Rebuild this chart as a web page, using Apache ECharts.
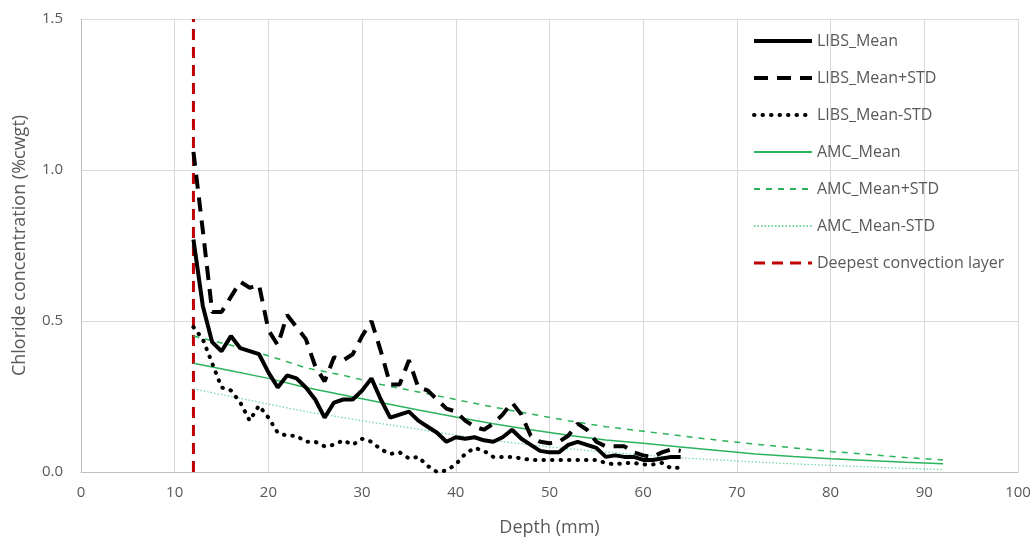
<!DOCTYPE html>
<html lang="en">
<head>
    <meta charset="UTF-8">
    <title>index</title>
    <script src="https://cdn.jsdelivr.net/npm/echarts@6/dist/echarts.min.js"></script>
    <style>
        html, body { margin: 0; padding: 0; background: #fff; }
        #chart { width: 1035px; height: 542px; }
    </style>
</head>
<body>
<div id="chart"></div>
<script>
    // LIBS profile, one reading per mm from 12 to 64
    var libsStart = 12;
    var libsMean = [0.77, 0.55, 0.43, 0.40, 0.45, 0.41, 0.40, 0.39, 0.33, 0.28,
        0.32, 0.31, 0.28, 0.24, 0.18, 0.23, 0.24, 0.24, 0.27, 0.31,
        0.24, 0.18, 0.19, 0.20, 0.17, 0.15, 0.13, 0.10, 0.115, 0.11,
        0.115, 0.105, 0.10, 0.115, 0.14, 0.11, 0.09, 0.07, 0.065, 0.065,
        0.09, 0.10, 0.09, 0.08, 0.05, 0.055, 0.05, 0.05, 0.04, 0.04,
        0.045, 0.05, 0.05];
    var libsPlus = [1.06, 0.80, 0.53, 0.53, 0.58, 0.63, 0.61, 0.62, 0.47, 0.42,
        0.52, 0.48, 0.44, 0.35, 0.30, 0.38, 0.37, 0.39, 0.45, 0.50,
        0.40, 0.29, 0.29, 0.37, 0.28, 0.27, 0.24, 0.21, 0.20, 0.17,
        0.15, 0.14, 0.16, 0.19, 0.23, 0.19, 0.12, 0.10, 0.095, 0.10,
        0.12, 0.16, 0.14, 0.10, 0.085, 0.085, 0.085, 0.065, 0.055, 0.05,
        0.065, 0.075, 0.07];
    var libsMinus = [0.48, 0.44, 0.36, 0.28, 0.27, 0.23, 0.17, 0.22, 0.18, 0.13,
        0.12, 0.12, 0.10, 0.10, 0.085, 0.09, 0.105, 0.09, 0.11, 0.10,
        0.075, 0.06, 0.065, 0.045, 0.05, 0.02, 0.0, 0.005, 0.025, 0.06,
        0.08, 0.07, 0.05, 0.05, 0.05, 0.045, 0.04, 0.04, 0.04, 0.04,
        0.04, 0.04, 0.04, 0.04, 0.03, 0.025, 0.03, 0.03, 0.025, 0.025,
        0.03, 0.012, 0.015];

    // AMC profile
    var amcDepth = [12, 16, 20, 24, 28, 32, 36, 40, 44, 48, 52, 56, 60, 64, 68, 72, 76, 80, 84, 88, 92];
    var amcMean = [0.36, 0.335, 0.31, 0.28, 0.255, 0.23, 0.205, 0.182, 0.16, 0.14, 0.122, 0.106, 0.095, 0.083, 0.071, 0.06, 0.051, 0.044, 0.038, 0.032, 0.027];
    var amcPlus = [0.45, 0.42, 0.385, 0.345, 0.32, 0.29, 0.265, 0.24, 0.215, 0.192, 0.17, 0.15, 0.135, 0.12, 0.105, 0.092, 0.08, 0.068, 0.058, 0.048, 0.04];
    var amcMinus = [0.275, 0.25, 0.225, 0.20, 0.18, 0.16, 0.142, 0.122, 0.104, 0.09, 0.077, 0.066, 0.056, 0.047, 0.04, 0.033, 0.027, 0.022, 0.017, 0.012, 0.008];

    // deepest convection layer
    var convDepth = 12;
    var convRange = [0, 1.5];

    function libsPairs(arr) {
        return arr.map(function (v, i) { return [libsStart + i, v]; });
    }
    function amcPairs(arr) {
        return arr.map(function (v, i) { return [amcDepth[i], v]; });
    }

    var grey = '#595959';
    var chart = echarts.init(document.getElementById('chart'));
    chart.setOption({
        animation: false,
        textStyle: { fontFamily: 'Open Sans' },
        grid: { left: 81, right: 17, top: 19, bottom: 70 },
        legend: {
            orient: 'vertical',
            left: 752,
            top: 33,
            padding: 0,
            itemWidth: 58,
            itemHeight: 14,
            itemGap: 21,
            itemStyle: { opacity: 0 },
            textStyle: { color: grey, fontSize: 16 },
            data: [
                { name: 'LIBS_Mean', lineStyle: { width: 4 } },
                { name: 'LIBS_Mean+STD', lineStyle: { width: 4 } },
                { name: 'LIBS_Mean-STD', lineStyle: { width: 4 } },
                { name: 'AMC_Mean' },
                { name: 'AMC_Mean+STD' },
                { name: 'AMC_Mean-STD' },
                { name: 'Deepest convection layer', lineStyle: { width: 3 } }
            ]
        },
        xAxis: {
            type: 'value', min: 0, max: 100, interval: 10,
            name: 'Depth (mm)', nameLocation: 'middle', nameGap: 47,
            nameTextStyle: { color: grey, fontSize: 18 },
            axisLine: { show: true, lineStyle: { color: '#bfbfbf' } },
            axisTick: { show: false },
            axisLabel: { color: grey, fontSize: 15, margin: 13 },
            splitLine: { lineStyle: { color: '#d9d9d9' } }
        },
        yAxis: {
            type: 'value', min: 0, max: 1.5, interval: 0.5,
            name: 'Chloride concentration (%cwgt)', nameLocation: 'middle', nameGap: 52,
            nameTextStyle: { color: grey, fontSize: 18 },
            axisLine: { show: true, lineStyle: { color: '#bfbfbf' } },
            axisTick: { show: false },
            axisLabel: { color: grey, fontSize: 15, margin: 18, formatter: function (v) { return v.toFixed(1); } },
            splitLine: { lineStyle: { color: '#d9d9d9' } }
        },
        series: [
            { name: 'LIBS_Mean', type: 'line', symbol: 'none', data: libsPairs(libsMean), z: 5,
              lineStyle: { color: '#000', width: 4 }, itemStyle: { color: '#000' } },
            { name: 'LIBS_Mean+STD', type: 'line', symbol: 'none', data: libsPairs(libsPlus), z: 5,
              lineStyle: { color: '#000', width: 4, type: [14, 9] }, itemStyle: { color: '#000' } },
            { name: 'LIBS_Mean-STD', type: 'line', symbol: 'none', data: libsPairs(libsMinus), z: 5,
              lineStyle: { color: '#000', width: 4, type: [0.5, 8], cap: 'round' }, itemStyle: { color: '#000' } },
            { name: 'AMC_Mean', type: 'line', symbol: 'none', data: amcPairs(amcMean), z: 4,
              lineStyle: { color: '#2bb35b', width: 1.5 }, itemStyle: { color: '#2bb35b' } },
            { name: 'AMC_Mean+STD', type: 'line', symbol: 'none', data: amcPairs(amcPlus), z: 4,
              lineStyle: { color: '#2bb35b', width: 1.5, type: [6, 6] }, itemStyle: { color: '#2bb35b' } },
            { name: 'AMC_Mean-STD', type: 'line', symbol: 'none', data: amcPairs(amcMinus), z: 4,
              lineStyle: { color: '#6fd6a0', width: 1.2, type: [1.5, 2] }, itemStyle: { color: '#6fd6a0' } },
            { name: 'Deepest convection layer', type: 'line', symbol: 'none', z: 3,
              data: convRange.map(function (v) { return [convDepth, v]; }),
              lineStyle: { color: '#c00000', width: 3, type: [11, 7] }, itemStyle: { color: '#c00000' } }
        ]
    });
</script>
</body>
</html>
